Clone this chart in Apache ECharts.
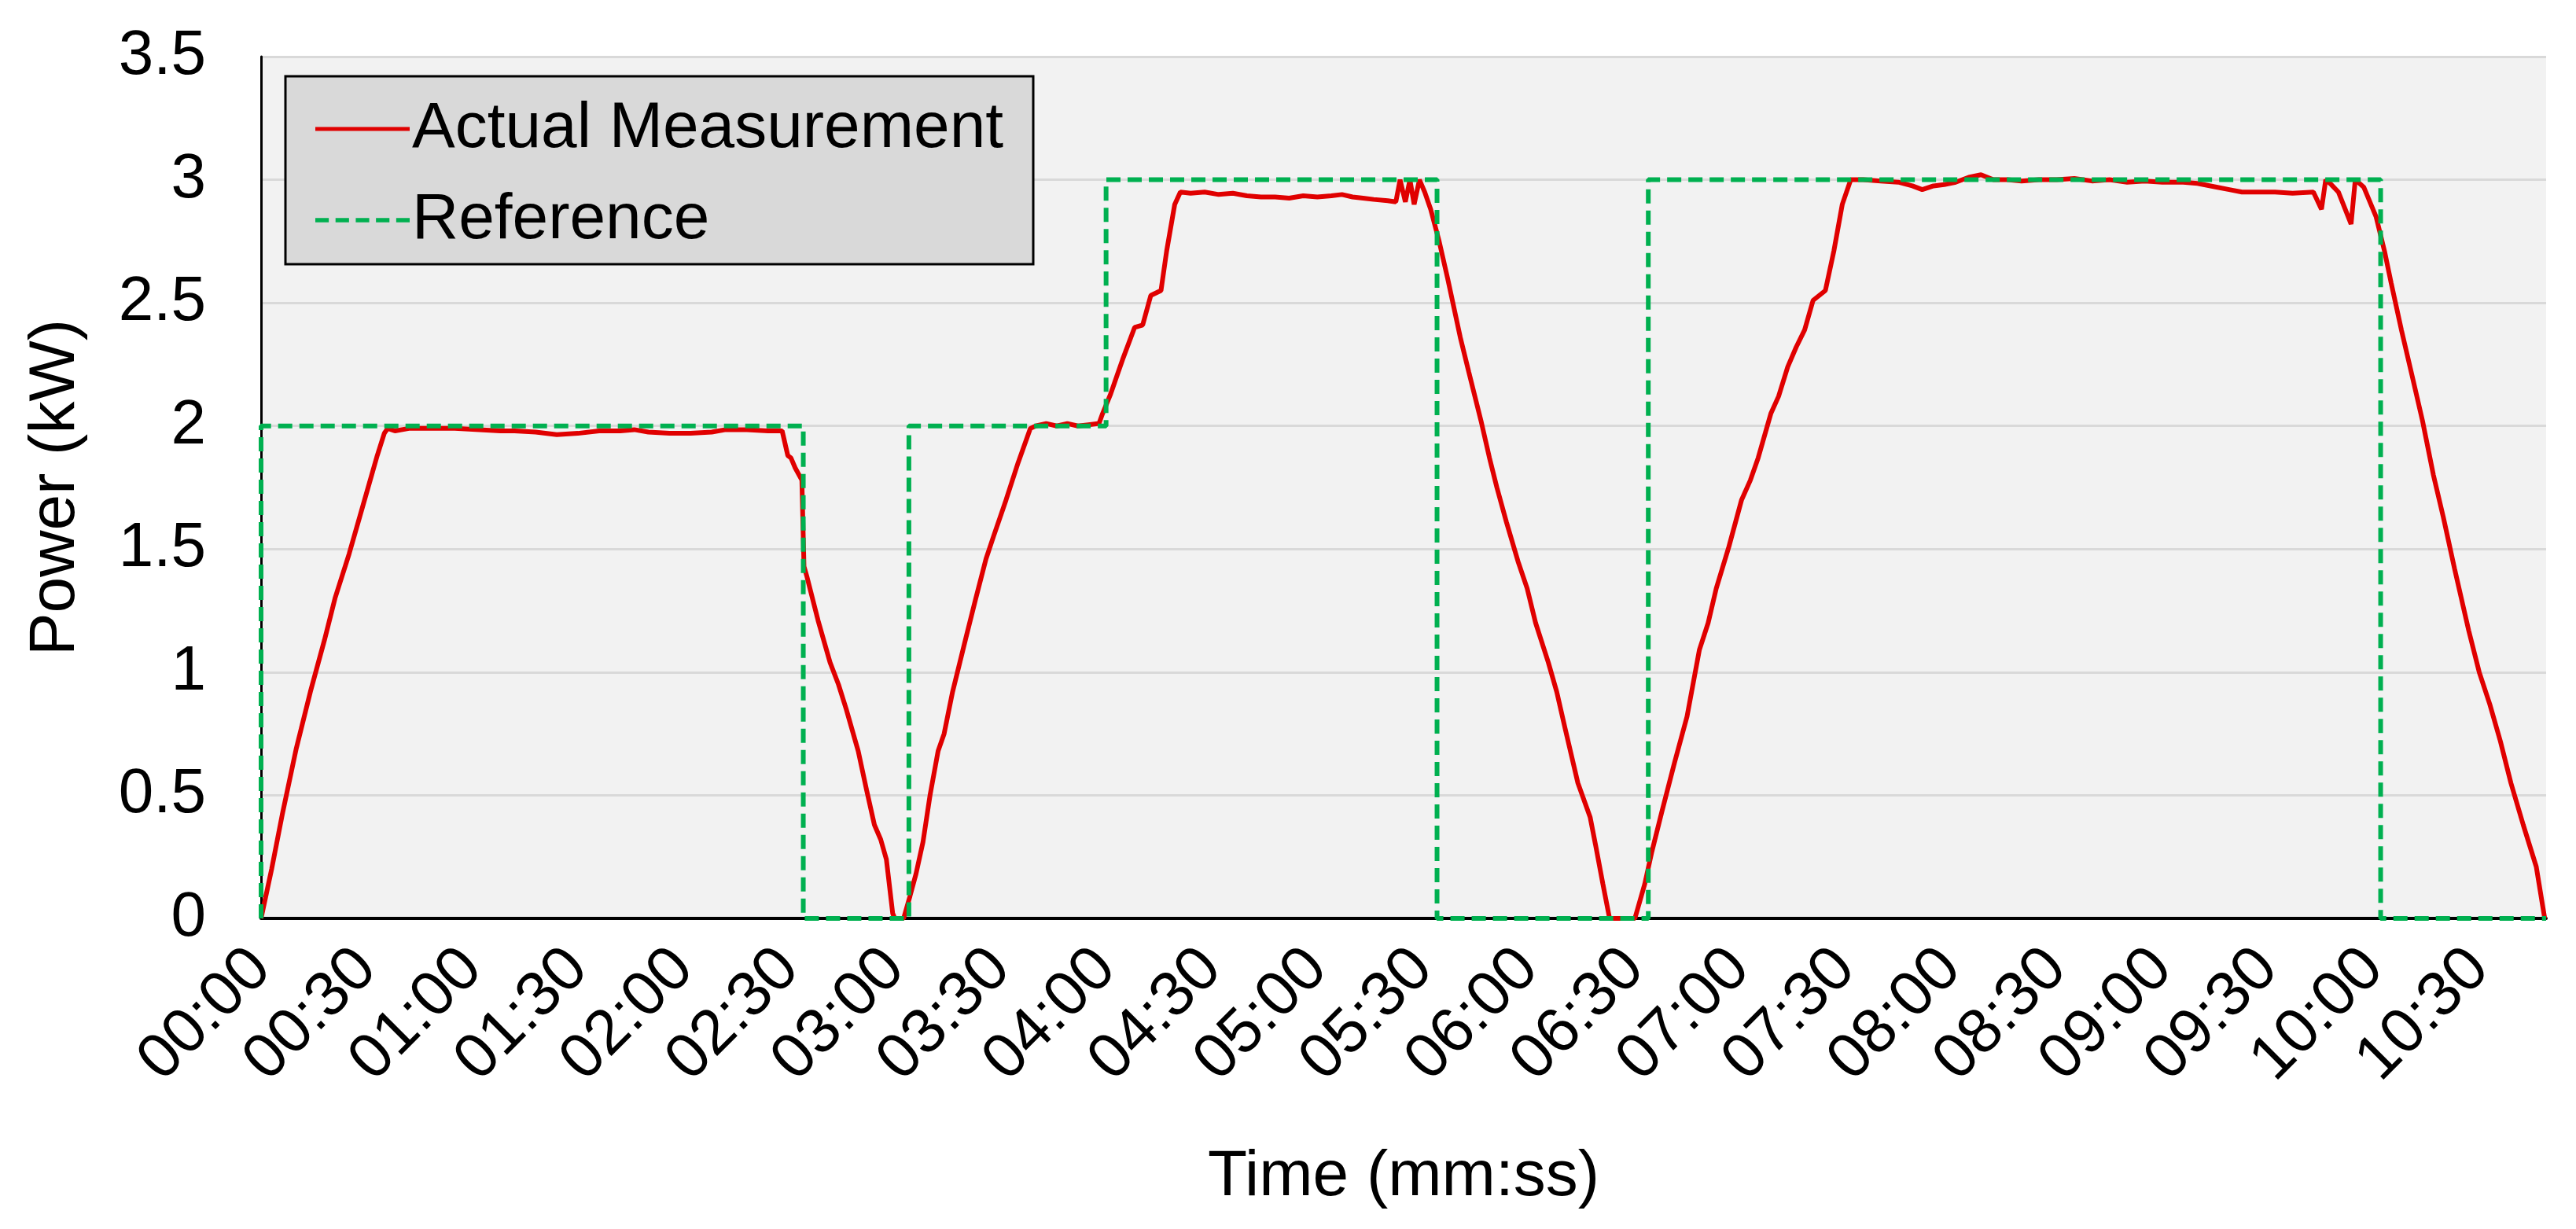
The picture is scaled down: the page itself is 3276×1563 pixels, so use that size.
<!DOCTYPE html>
<html>
<head>
<meta charset="utf-8">
<title>Power vs Time</title>
<script src="https://cdn.jsdelivr.net/npm/echarts@6/dist/echarts.min.js"></script>
<style>
  html, body { margin: 0; padding: 0; background: #ffffff; }
  #chart { width: 3276px; height: 1563px; }
</style>
</head>
<body>
<div id="chart"></div>
<script>
// reference (setpoint) steps, time in seconds
const refTime = [0, 0, 154, 154, 184, 184, 240, 240, 334, 334, 394, 394, 602, 602, 649];
const refPower = [0, 2, 2, 0, 0, 2, 2, 3, 3, 0, 0, 3, 3, 0, 0];

const measTime = [
  0, 3, 6, 10, 14, 18, 21, 25, 28, 31, 33, 35, 36,
  38, 42, 48, 55, 62, 68, 72, 78, 84, 90, 96, 102, 106, 110, 116, 122, 128, 132, 138, 144, 148,
  149.6, 150.5, 151.7, 153.6, 154.2, 155, 158.2, 161.6, 164, 166.2, 169.6, 172, 174.2, 176, 177.6, 179.4, 180, 182.5,
  184.3, 186, 188, 190, 192.3, 194, 196.4, 200.2, 203, 205.9, 208, 211.6, 215, 218.5, 220,
  223, 226, 229, 232, 235, 238,
  239, 241.3, 243, 244.7, 248.1, 250.4, 252.7, 255.6, 257.2, 259.5, 261.1,
  264, 268, 272, 276, 280, 284, 288, 292, 296, 300, 304, 307, 310, 313, 316, 320, 322.3,
  323.5, 325, 326.3, 327.5, 329, 330.5, 332.2,
  334.6, 337, 340.6, 343, 346.5, 348.9, 351, 353.7, 357, 359.6, 362, 365.6, 368, 370.4, 374, 377.5, 379, 381.1, 383, 390.2,
  393, 395, 397.8, 401.4, 405, 408.5, 411, 413.3, 416.9, 420.5, 423, 425.2, 428.8, 431, 433.6, 436, 438.4, 440.8, 444.3, 446.7, 449.1, 451.5,
  455, 460, 465, 469, 471.8, 475, 478, 481.3, 485, 488.5, 492, 496, 500, 505, 510, 515, 520, 525, 530, 535, 540, 545.9, 550, 555.4, 559, 562.6, 567, 572, 577, 582.9, 585.2, 586.4, 588, 590, 593.6, 594.8, 597.2,
  600.7, 603.1, 605, 607.9, 611, 613.9, 617, 619.8, 623, 627, 630, 633, 636, 639, 642.5, 646.2, 648.6
];
const measPower = [
  0, 0.2, 0.42, 0.69, 0.92, 1.13, 1.3, 1.48, 1.63, 1.78, 1.88, 1.97, 1.99,
  1.98, 1.99, 1.99, 1.99, 1.985, 1.98, 1.98, 1.975, 1.965, 1.97, 1.98, 1.98, 1.985, 1.975, 1.97, 1.97, 1.975, 1.985, 1.985, 1.98, 1.98,
  1.88, 1.87, 1.83, 1.78, 1.43, 1.39, 1.21, 1.04, 0.95, 0.85, 0.68, 0.52, 0.38, 0.32, 0.24, 0.02, 0, 0,
  0.09, 0.18, 0.31, 0.5, 0.68, 0.75, 0.92, 1.14, 1.3, 1.46, 1.55, 1.7, 1.85, 1.99, 2.0,
  2.01, 2.0, 2.01, 2.0, 2.005, 2.01,
  2.05, 2.13, 2.2, 2.27, 2.4, 2.41, 2.53, 2.55, 2.71, 2.9, 2.95,
  2.945, 2.95, 2.94, 2.945, 2.935, 2.93, 2.93, 2.925, 2.935, 2.93, 2.935, 2.94, 2.93, 2.925, 2.92, 2.915, 2.91,
  3.0, 2.91, 3.0, 2.9, 3.0, 2.95, 2.88,
  2.75, 2.6, 2.36, 2.22, 2.02, 1.87, 1.75, 1.61, 1.45, 1.34, 1.2, 1.04, 0.92, 0.77, 0.55, 0.41, 0.3, 0.14, 0, 0,
  0.14, 0.27, 0.43, 0.63, 0.82, 1.09, 1.2, 1.34, 1.51, 1.7, 1.78, 1.87, 2.05, 2.12, 2.24, 2.32, 2.39, 2.51, 2.55, 2.71, 2.9, 3.0,
  3.0, 2.995, 2.99, 2.975, 2.96, 2.975, 2.98, 2.99, 3.01, 3.02, 3.0, 3.0, 2.995, 3.0, 3.0, 3.005, 2.995, 3.0, 2.99, 2.995, 2.99, 2.99, 2.985, 2.97, 2.96, 2.95, 2.95, 2.95, 2.945, 2.95, 2.88, 3.0, 2.98, 2.95, 2.82, 3.0, 2.97,
  2.85, 2.71, 2.58, 2.39, 2.2, 2.02, 1.8, 1.63, 1.42, 1.17, 1.0, 0.87, 0.72, 0.55, 0.38, 0.21, 0
];

const timeMax = 649;
const fontFamily = '"Liberation Sans", Arial, sans-serif';

// legend swatches: solid red bar and five green dashes
const solidIcon = 'path://M0,0H120V5H0Z';
const dashIcon = 'path://M0,0H18V6H0Z M27,0H45V6H27Z M54,0H72V6H54Z M81,0H99V6H81Z M108,0H126V6H108Z';

function pairs(xs, ys) {
  return xs.map((x, i) => [x, ys[i]]);
}

function mmss(v) {
  const m = Math.floor(v / 60);
  const s = Math.round(v % 60);
  return String(m).padStart(2, '0') + ':' + String(s).padStart(2, '0');
}

const chart = echarts.init(document.getElementById('chart'), null, { renderer: 'canvas' });

const option = {
  animation: false,
  textStyle: { fontFamily: fontFamily, color: '#000' },
  grid: {
    left: 332,
    right: 38,
    top: 72,
    bottom: 395,
    show: true,
    backgroundColor: '#f2f2f2',
    borderWidth: 0,
  },
  legend: {
    left: 363,
    top: 97,
    orient: 'vertical',
    backgroundColor: '#d9d9d9',
    borderColor: '#000',
    borderWidth: 3,
    padding: [26, 38, 15, 38],
    itemWidth: 120,
    itemHeight: 40,
    itemGap: 34,
    textStyle: { fontSize: 82, color: '#000', fontFamily: fontFamily, padding: [0, 0, 0, -2] },
    data: [
      { name: 'Actual Measurement', icon: solidIcon },
      { name: 'Reference', icon: dashIcon },
    ],
  },
  xAxis: {
    type: 'value',
    min: 0,
    max: timeMax,
    interval: 30,
    name: 'Time (mm:ss)',
    nameLocation: 'middle',
    nameGap: 288,
    nameTextStyle: { fontSize: 82, color: '#000', fontFamily: fontFamily },
    axisLine: { show: true, onZero: false, lineStyle: { color: '#000', width: 4 } },
    axisTick: { show: false },
    splitLine: { show: false },
    axisLabel: {
      rotate: 45,
      margin: 52,
      fontSize: 80,
      color: '#000',
      fontFamily: fontFamily,
      showMaxLabel: false,
      formatter: mmss,
    },
  },
  yAxis: {
    type: 'value',
    min: 0,
    max: 3.5,
    interval: 0.5,
    name: 'Power (kW)',
    nameLocation: 'middle',
    nameGap: 220,
    nameTextStyle: { fontSize: 82, color: '#000', fontFamily: fontFamily },
    axisLine: { show: true, lineStyle: { color: '#000', width: 3 } },
    axisTick: { show: false },
    splitLine: { show: true, lineStyle: { color: '#d9d9d9', width: 3 } },
    axisLabel: {
      margin: 70,
      fontSize: 80,
      color: '#000',
      fontFamily: fontFamily,
    },
  },
  series: [
    {
      name: 'Actual Measurement',
      type: 'line',
      data: pairs(measTime, measPower),
      showSymbol: false,
      symbol: 'none',
      lineStyle: { color: '#e00000', width: 6 },
      itemStyle: { color: '#e00000' },
      z: 2,
    },
    {
      name: 'Reference',
      type: 'line',
      data: pairs(refTime, refPower),
      showSymbol: false,
      symbol: 'none',
      lineStyle: { color: '#00b050', width: 6, type: [18, 9] },
      itemStyle: { color: '#00b050' },
      z: 3,
    },
  ],
};

chart.setOption(option);
window.addEventListener('resize', chart.resize);
</script>
</body>
</html>
